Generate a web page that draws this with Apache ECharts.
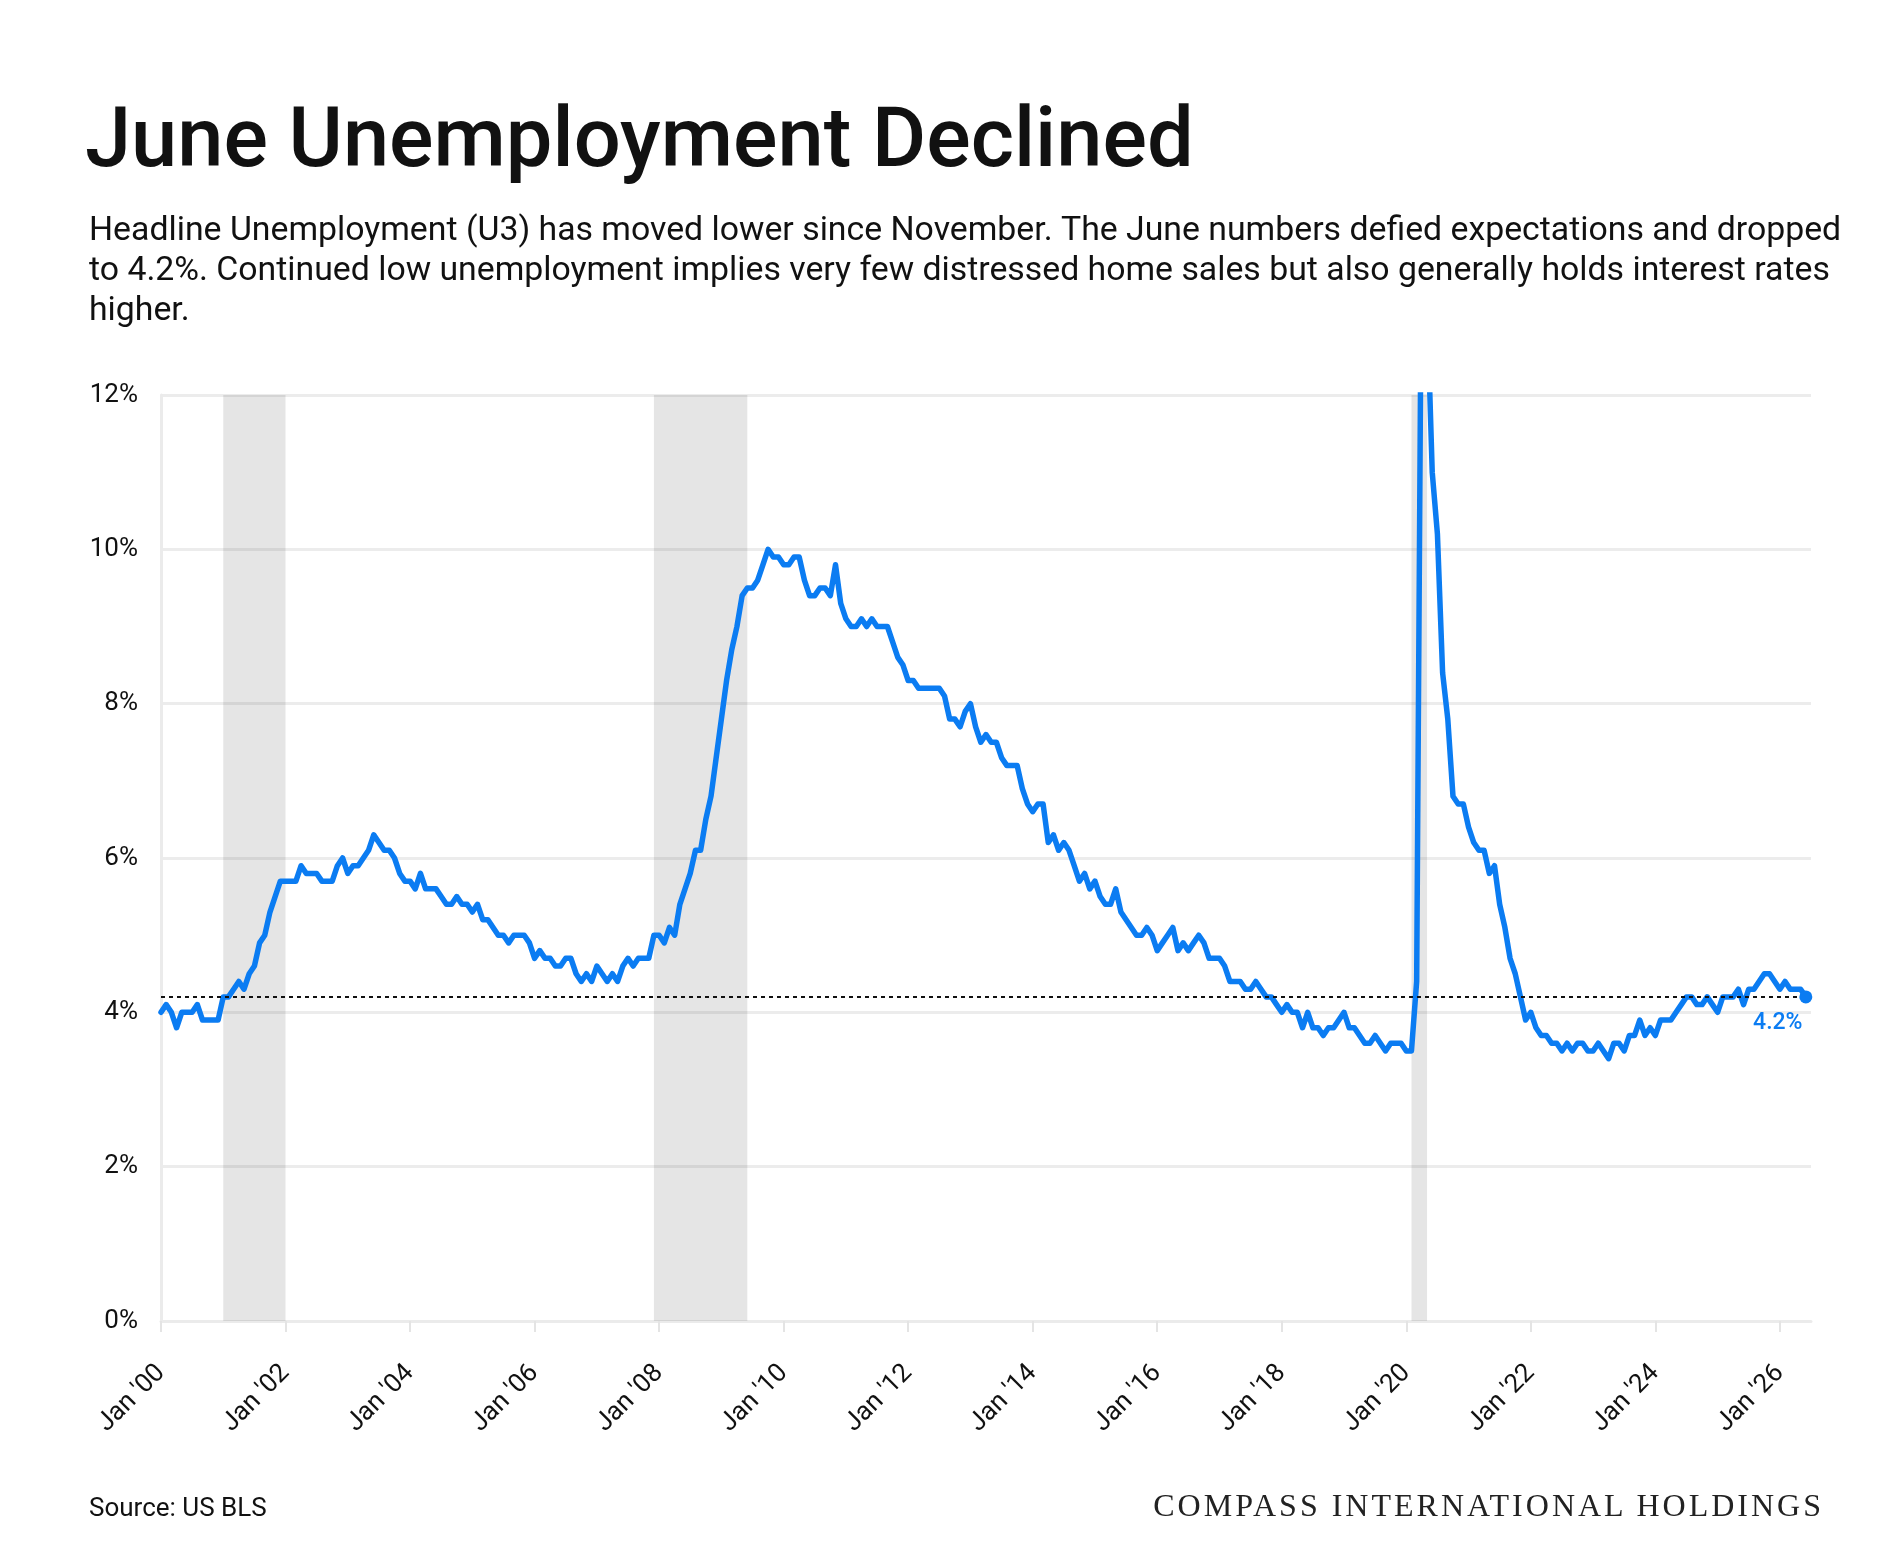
<!DOCTYPE html>
<html>
<head>
<meta charset="utf-8">
<title>June Unemployment Declined</title>
<script src="https://cdn.jsdelivr.net/npm/echarts@6/dist/echarts.min.js"></script>
<style>
  html, body { margin: 0; padding: 0; background: #fff; }
  #wrap { position: relative; width: 1900px; height: 1568px; }
  #chart { width: 1900px; height: 1568px; }
  #brand {
    position: absolute; right: 76px; top: 1489px;
    font-family: "Liberation Serif", "DejaVu Serif", serif;
    font-size: 32px; line-height: 32px; letter-spacing: 3px; color: #222;
    white-space: nowrap;
  }
</style>
</head>
<body>
<div id="wrap">
  <div id="chart"></div>
  <div id="brand">COMPASS INTERNATIONAL HOLDINGS</div>
</div>
<script>
// 월별 실업률 (U3, %) - 2000년 1월부터 2026년 6월까지
const startYear = 2000;
const unemployment = [
  4.0, 4.1, 4.0, 3.8, 4.0, 4.0, 4.0, 4.1, 3.9, 3.9, 3.9, 3.9,   // 2000
  4.2, 4.2, 4.3, 4.4, 4.3, 4.5, 4.6, 4.9, 5.0, 5.3, 5.5, 5.7,   // 2001
  5.7, 5.7, 5.7, 5.9, 5.8, 5.8, 5.8, 5.7, 5.7, 5.7, 5.9, 6.0,   // 2002
  5.8, 5.9, 5.9, 6.0, 6.1, 6.3, 6.2, 6.1, 6.1, 6.0, 5.8, 5.7,   // 2003
  5.7, 5.6, 5.8, 5.6, 5.6, 5.6, 5.5, 5.4, 5.4, 5.5, 5.4, 5.4,   // 2004
  5.3, 5.4, 5.2, 5.2, 5.1, 5.0, 5.0, 4.9, 5.0, 5.0, 5.0, 4.9,   // 2005
  4.7, 4.8, 4.7, 4.7, 4.6, 4.6, 4.7, 4.7, 4.5, 4.4, 4.5, 4.4,   // 2006
  4.6, 4.5, 4.4, 4.5, 4.4, 4.6, 4.7, 4.6, 4.7, 4.7, 4.7, 5.0,   // 2007
  5.0, 4.9, 5.1, 5.0, 5.4, 5.6, 5.8, 6.1, 6.1, 6.5, 6.8, 7.3,   // 2008
  7.8, 8.3, 8.7, 9.0, 9.4, 9.5, 9.5, 9.6, 9.8, 10.0, 9.9, 9.9,  // 2009
  9.8, 9.8, 9.9, 9.9, 9.6, 9.4, 9.4, 9.5, 9.5, 9.4, 9.8, 9.3,   // 2010
  9.1, 9.0, 9.0, 9.1, 9.0, 9.1, 9.0, 9.0, 9.0, 8.8, 8.6, 8.5,   // 2011
  8.3, 8.3, 8.2, 8.2, 8.2, 8.2, 8.2, 8.1, 7.8, 7.8, 7.7, 7.9,   // 2012
  8.0, 7.7, 7.5, 7.6, 7.5, 7.5, 7.3, 7.2, 7.2, 7.2, 6.9, 6.7,   // 2013
  6.6, 6.7, 6.7, 6.2, 6.3, 6.1, 6.2, 6.1, 5.9, 5.7, 5.8, 5.6,   // 2014
  5.7, 5.5, 5.4, 5.4, 5.6, 5.3, 5.2, 5.1, 5.0, 5.0, 5.1, 5.0,   // 2015
  4.8, 4.9, 5.0, 5.1, 4.8, 4.9, 4.8, 4.9, 5.0, 4.9, 4.7, 4.7,   // 2016
  4.7, 4.6, 4.4, 4.4, 4.4, 4.3, 4.3, 4.4, 4.3, 4.2, 4.2, 4.1,   // 2017
  4.0, 4.1, 4.0, 4.0, 3.8, 4.0, 3.8, 3.8, 3.7, 3.8, 3.8, 3.9,   // 2018
  4.0, 3.8, 3.8, 3.7, 3.6, 3.6, 3.7, 3.6, 3.5, 3.6, 3.6, 3.6,   // 2019
  3.5, 3.5, 4.4, 14.8, 13.2, 11.0, 10.2, 8.4, 7.8, 6.8, 6.7, 6.7, // 2020
  6.4, 6.2, 6.1, 6.1, 5.8, 5.9, 5.4, 5.1, 4.7, 4.5, 4.2, 3.9,   // 2021
  4.0, 3.8, 3.7, 3.7, 3.6, 3.6, 3.5, 3.6, 3.5, 3.6, 3.6, 3.5,   // 2022
  3.5, 3.6, 3.5, 3.4, 3.6, 3.6, 3.5, 3.7, 3.7, 3.9, 3.7, 3.8,   // 2023
  3.7, 3.9, 3.9, 3.9, 4.0, 4.1, 4.2, 4.2, 4.1, 4.1, 4.2, 4.1,   // 2024
  4.0, 4.2, 4.2, 4.2, 4.3, 4.1, 4.3, 4.3, 4.4, 4.5, 4.5, 4.4,   // 2025
  4.3, 4.4, 4.3, 4.3, 4.3, 4.2                                  // 2026
];
// 경기침체 구간 (월 인덱스, 음영)
const recessions = [[12, 24], [95, 112.7], [241, 243.6]];
const yTicks = { min: 0, max: 12, interval: 2 };
const referenceLevel = 4.2;
const extraMonths = 1; // 마지막 데이터 뒤 여백

const monthNames = ['Jan','Feb','Mar','Apr','May','Jun','Jul','Aug','Sep','Oct','Nov','Dec'];
const months = [];
for (let i = 0; i < unemployment.length + extraMonths; i++) {
  const y = startYear + Math.floor(i / 12);
  months.push(monthNames[i % 12] + " '" + String(y).slice(2));
}
const lastIdx = unemployment.length - 1;
const lastVal = unemployment[lastIdx];

const BLUE = '#0b7cf2';
const FONT = 'Roboto, "Noto Sans", sans-serif';

const chart = echarts.init(document.getElementById('chart'), null, { renderer: 'canvas' });

chart.setOption({
  backgroundColor: '#ffffff',
  animation: false,
  title: [
    {
      text: 'June Unemployment Declined',
      left: 80, top: 99,
      textStyle: { fontFamily: FONT, fontSize: 83, fontWeight: 500, color: '#111' }
    },
    {
      text: 'Headline Unemployment (U3) has moved lower since November. The June numbers defied expectations and dropped\n' +
            'to 4.2%. Continued low unemployment implies very few distressed home sales but also generally holds interest rates\n' +
            'higher.',
      left: 84, top: 207,
      textStyle: { fontFamily: FONT, fontSize: 33.8, fontWeight: 400, color: '#111', lineHeight: 40 }
    },
    {
      text: 'Source: US BLS',
      left: 84, top: 1491,
      textStyle: { fontFamily: FONT, fontSize: 26, fontWeight: 400, color: '#111' }
    }
  ],
  grid: { left: 161, right: 89, top: 395, bottom: 247, containLabel: false },
  xAxis: {
    type: 'category',
    data: months,
    boundaryGap: false,
    axisLine: { show: true, lineStyle: { color: '#ebebeb', width: 3 } },
    axisTick: {
      show: true, length: 11,
      interval: (idx) => idx % 24 === 0,
      lineStyle: { color: '#e4e4e4', width: 2 }
    },
    axisLabel: {
      interval: (idx) => idx % 24 === 0,
      rotate: 45, margin: 48,
      fontFamily: FONT, fontSize: 26, color: '#111'
    },
    splitLine: { show: false }
  },
  yAxis: {
    type: 'value',
    min: yTicks.min, max: yTicks.max, interval: yTicks.interval,
    axisLine: { show: true, lineStyle: { color: '#ebebeb', width: 3 } },
    axisTick: { show: false },
    axisLabel: {
      formatter: '{value}%', margin: 23,
      fontFamily: FONT, fontSize: 26, color: '#111'
    },
    splitLine: { show: true, lineStyle: { color: 'rgba(0,0,0,0.075)', width: 3 } }
  },
  series: [{
    type: 'line',
    data: unemployment,
    symbol: 'none',
    clip: true,
    lineStyle: { color: BLUE, width: 5.5, join: 'round', cap: 'round' },
    markArea: {
      silent: true,
      itemStyle: { color: 'rgba(0,0,0,0.1)' },
      data: recessions.map(r => [{ xAxis: r[0] }, { xAxis: r[1] }])
    },
    markLine: {
      silent: true,
      symbol: 'none',
      label: { show: false },
      lineStyle: { color: '#111', type: [4, 4], width: 2 },
      data: [{ yAxis: referenceLevel }]
    },
    markPoint: {
      silent: true,
      symbol: 'circle',
      symbolSize: 13,
      itemStyle: { color: BLUE },
      label: {
        show: true,
        position: 'inside',
        offset: [-28, 26],
        formatter: lastVal.toFixed(1) + '%',
        fontFamily: FONT, fontSize: 23, fontWeight: 500, color: BLUE
      },
      data: [{ coord: [lastIdx, lastVal] }]
    }
  }]
});
</script>
</body>
</html>
